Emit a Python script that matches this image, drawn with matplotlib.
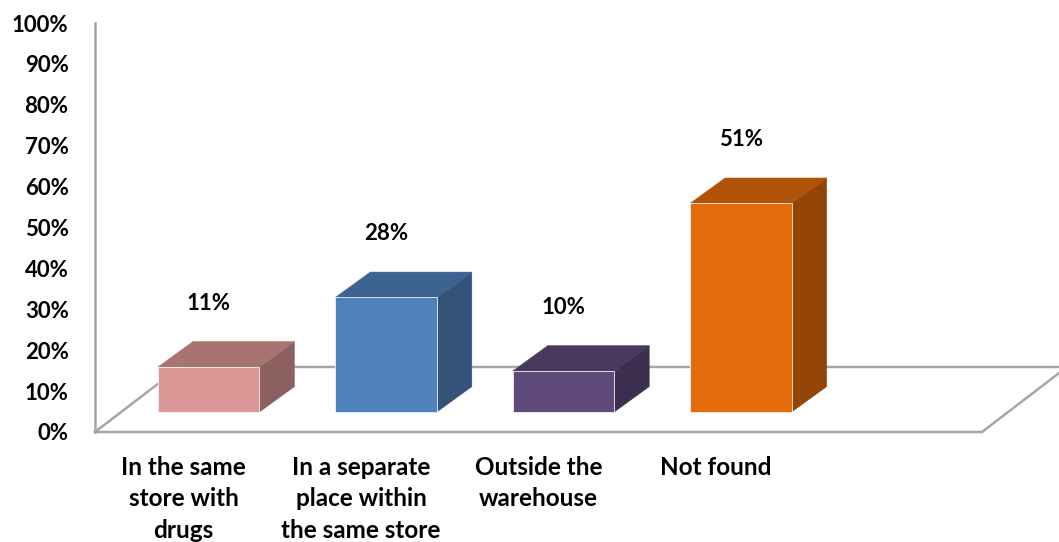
import numpy as np
import matplotlib.pyplot as plt
from matplotlib.patches import Polygon

# 1. Data
categories = ['In the same\nstore with\ndrugs',
              'In a separate\nplace within\nthe same store',
              'Outside the\nwarehouse',
              'Not found']
values = [11, 28, 10, 51]
front_colors = ['#D99694', '#4F81BD', '#604A7B', '#E46C0A']
yticks = [0, 10, 20, 30, 40, 50, 60, 70, 80, 90, 100]

# 2. Figure + axes (5 slots on the floor, last one empty)
fig = plt.figure(figsize=(10.59, 5.42), dpi=100)
ax = fig.add_axes([95 / 1059, 110 / 542, 887 / 1059, 409 / 542])
ax.set_xlim(-0.5, 4.5)
ax.set_ylim(0, 100)

plt.rcParams['font.family'] = ['Lato', 'DejaVu Sans']
font = dict(family=['Lato', 'DejaVu Sans'], weight='bold', size=16, color='black')
cat_font = dict(font, size=17.5)

# 3D-ish projection offsets (in data units)
floor_dx, floor_dy = 0.479, 15.9
bar_dx, bar_dy = 0.197, 6.2
bar_base = 4.9
bar_w = 0.572
bar_shift = 0.141
grey = '#A6A6A6'


def shade(hex_color, k):
    rgb = np.array([int(hex_color[i:i + 2], 16) for i in (1, 3, 5)]) / 255
    return tuple(rgb * k)


# 3. Floor outline
floor_x = [-0.5, 4.5, 4.5 + floor_dx, -0.5 + floor_dx, -0.5]
floor_y = [0, 0, floor_dy, floor_dy, 0]
ax.plot(floor_x, floor_y, color=grey, lw=1.8, clip_on=False, zorder=1)

# 4. Bars as boxes
for i, (v, c) in enumerate(zip(values, front_colors)):
    x0 = i + bar_shift - bar_w / 2
    x1 = x0 + bar_w
    y0 = bar_base
    y1 = bar_base + v
    front = Polygon([(x0, y0), (x1, y0), (x1, y1), (x0, y1)],
                    facecolor=c, edgecolor='#F2F2F2', lw=0.6, zorder=3)
    top = Polygon([(x0, y1), (x1, y1), (x1 + bar_dx, y1 + bar_dy), (x0 + bar_dx, y1 + bar_dy)],
                  facecolor=shade(c, 0.77), edgecolor=shade(c, 0.77), lw=0.4, zorder=3)
    side = Polygon([(x1, y0), (x1 + bar_dx, y0 + bar_dy), (x1 + bar_dx, y1 + bar_dy), (x1, y1)],
                   facecolor=shade(c, 0.64), edgecolor=shade(c, 0.64), lw=0.4, zorder=3)
    for p in (side, top, front):
        ax.add_patch(p)
    # value label
    ax.text(i + bar_shift, v + 20.5, f'{v}%', ha='center', va='center', **font)

# 5. Category labels along the front edge
for i, lab in enumerate(categories):
    ax.text(i, -5.8, lab, ha='center', va='top', linespacing=1.45, clip_on=False, **cat_font)

# 6. Axis styling
ax.set_yticks(yticks)
ax.set_yticklabels([f'{t}%' for t in yticks], **font)
ax.tick_params(axis='y', length=0, pad=19)
ax.set_xticks([])
for s in ['top', 'right', 'bottom']:
    ax.spines[s].set_visible(False)
ax.spines['left'].set_color(grey)
ax.spines['left'].set_linewidth(1.8)
ax.patch.set_alpha(0)

fig.savefig('out.png', dpi=100)
